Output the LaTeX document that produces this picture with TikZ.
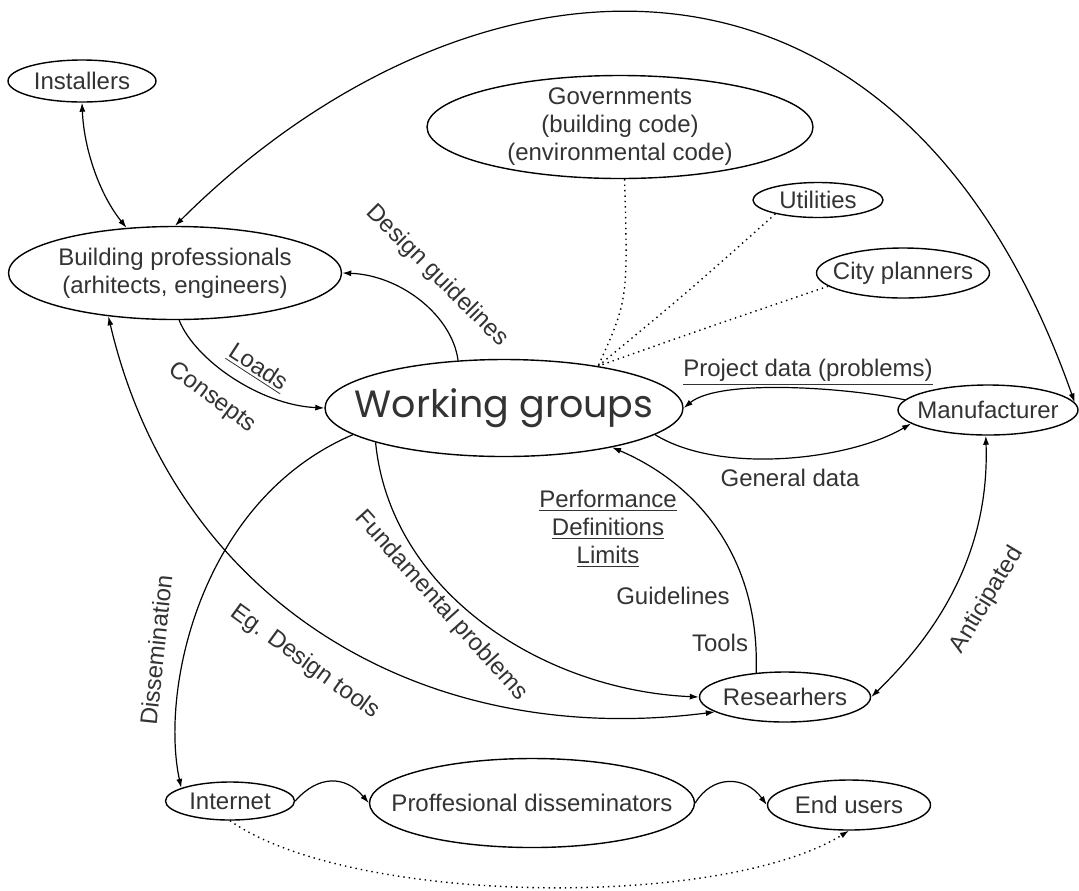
\documentclass[tikz,border=0pt]{standalone}
\usepackage{fontspec}
\setmainfont{Liberation Sans}
\newfontfamily\wgfont{Poppins}
\usetikzlibrary{shapes,
	arrows.meta,
	calc}
\tikzstyle{ent}=[draw, ellipse, line width=0.7pt, inner xsep=-20pt, inner ysep=-5pt,
		text=black!80, align=center, font=\fontsize{12}{14}\selectfont]
\tikzstyle{lbl}=[inner sep=0, text=black!80, align=center, font=\fontsize{12}{14}\selectfont]
\tikzstyle{lnk}=[line width=0.6pt, -{Latex[length=4.5pt,width=3pt]}]
\tikzstyle{lnkb}=[line width=0.6pt, {Latex[length=4.5pt,width=3pt]}-{Latex[length=4.5pt,width=3pt]}]
\tikzstyle{infl}=[line width=0.7pt, dotted]

\begin{document}
\begin{tikzpicture}[x=0.5pt, y=-0.5pt]
        \useasboundingbox (0,0) rectangle (1079,890);
        \node[ent, minimum width=74pt, minimum height=21pt] (inst) at (82,81) {Installers};
        \node[ent, minimum width=193pt, minimum height=51.5pt] (gov) at (620,127) {Governments\\(building code)\\(environmental code)};
        \node[ent, minimum width=65pt, minimum height=17.5pt] (util) at (818,200) {Utilities};
        \node[ent, minimum width=86.5pt, minimum height=25pt] (city) at (903,273) {City planners};
        \node[ent, minimum width=166.5pt, minimum height=46.5pt] (bp) at (175,273) {Building professionals\\(arhitects, engineers)};
        \node[ent, minimum width=179pt, minimum height=48.5pt, font=\wgfont\fontsize{19}{21}\selectfont] (wg) at (504,408) {Working groups};
        \node[ent, minimum width=90pt, minimum height=25pt] (manu) at (988,410) {Manufacturer};
        \node[ent, minimum width=85.5pt, minimum height=25pt] (res) at (785,697) {Researhers};
        \node[ent, minimum width=64.5pt, minimum height=19pt] (inet) at (230,801) {Internet};
        \node[ent, minimum width=162.5pt, minimum height=44.5pt] (pd) at (532,803) {Proffesional disseminators};
        \node[ent, minimum width=81.5pt, minimum height=25pt] (endu) at (849,805) {End users};
        \coordinate (hub) at (wg.24);

        \draw[lnkb] (inst.south) .. controls (84,150) and (100,195) .. (bp.137);
        \draw[lnkb] (bp.north) .. controls (462,-60) and (894,-110) .. (manu.5);
        \draw[lnk] (wg.134) .. controls (452,315) and (400,275) .. (bp.east);
        \draw[lnk] (bp.-85) .. controls (195,360) and (260,405) .. (wg.west);
        \draw[infl] (gov.-85) .. controls (628,300) .. (hub);
        \draw[infl] (util.198) .. controls (690,290) .. (hub);
        \draw[infl] (city.190) .. controls (700,330) .. (hub);
        \draw[lnk] (manu.173) .. controls (850,388) and (720,378) .. (wg.east);
        \draw[lnk] (wg.-10) .. controls (720,475) and (850,460) .. (manu.190);
        \draw[lnk] (res.140) .. controls (760,560) and (700,485) .. (wg.-20);
        \draw[lnk] (wg.195) .. controls (390,590) and (540,690) .. (res.west);
        \draw[lnkb] (res.192) .. controls (420,750) and (175,600) .. (bp.-147);
        \draw[lnk] (wg.190) .. controls (200,500) and (160,690) .. (inet.165);
        \draw[lnk] (inet.east) .. controls (318,775) and (345,775) .. (pd.west);
        \draw[lnk] (pd.east) .. controls (712,775) and (745,775) .. (endu.west);
        \draw[infl, -{Latex[length=4.5pt,width=3pt]}] (inet.south) .. controls (350,905) and (720,910) .. (endu.south);
        \draw[lnkb] (manu.-95) .. controls (990,560) and (930,640) .. (res.east);

        \node[lbl, rotate=-45] (ldes) at (437,276) {Design guidelines};
        \node[lbl, rotate=-33] (lload) at (258,368) {\underline{Loads}};
        \node[lbl, rotate=-37] (lcons) at (212,398) {Consepts};
        \node[lbl] (lproj) at (808,372) {\underline{Project data (problems)}};
        \node[lbl] (lgen) at (790,478) {General data};
        \node[lbl] (lperf) at (608,529) {\underline{Performance}\\\underline{Definitions}\\\underline{Limits}};
        \node[lbl] (lguid) at (673,596) {Guidelines};
        \node[lbl] (ltool) at (720,643) {Tools};
        \node[lbl, rotate=-48] (lfund) at (441,606) {Fundamental problems};
        \node[lbl, rotate=-36] (leg) at (305,662) {Eg. Design tools};
        \node[lbl, rotate=84] (ldis) at (156,650) {Dissemination};
        \node[lbl, rotate=59] (lant) at (987,600) {Anticipated};
\end{tikzpicture}
\end{document}
